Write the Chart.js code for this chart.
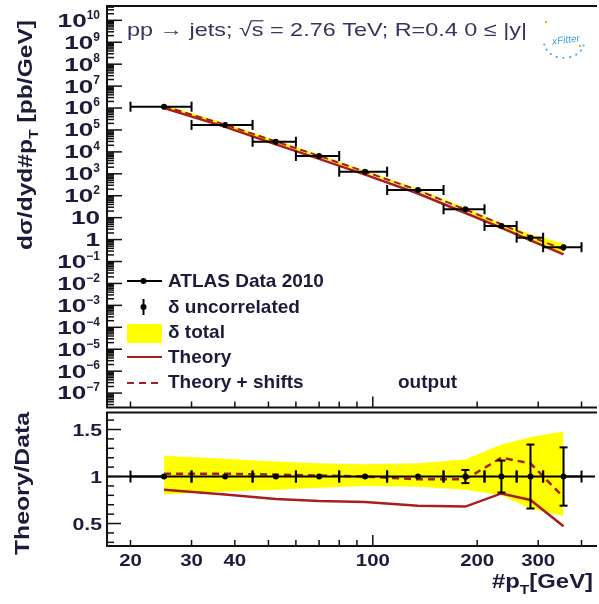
<!DOCTYPE html>
<html>
<head>
<meta charset="utf-8">
<script src="https://cdn.jsdelivr.net/npm/chart.js@4.4.1/dist/chart.umd.min.js"></script>
<style>
  html, body { margin: 0; padding: 0; background: #fff; overflow: hidden; }
  #wrap { position: relative; width: 599px; height: 604px; }
  canvas { position: absolute; left: 0; top: 0; }
</style>
</head>
<body>
<div id="wrap">
  <canvas id="xsecChart" width="599" height="604"></canvas>
  <canvas id="ratioChart" width="599" height="604"></canvas>
</div>
<script>
// ---------------- data ----------------
const binEdges = [20, 30, 45, 60, 80, 110, 160, 210, 260, 310, 400];
const ptCenters = [25, 37.5, 52.5, 70, 95, 135, 185, 235, 285, 355];
const xsecData = [1.15e6, 1.7e5, 2.9e4, 6.5e3, 1.25e3, 183, 24, 4.2, 1.22, 0.45];
const errUncorr = [0.01, 0.01, 0.01, 0.01, 0.01, 0.015, 0.07, 0.17, 0.34, 0.31];
const bandUp = [1.22, 1.19, 1.16, 1.14, 1.13, 1.14, 1.18, 1.34, 1.42, 1.48];
const bandDown = [0.81, 0.84, 0.86, 0.88, 0.90, 0.89, 0.86, 0.80, 0.66, 0.58];
const theoryRatio = [0.86, 0.81, 0.76, 0.74, 0.73, 0.69, 0.68, 0.82, 0.75, 0.47];
const shiftRatio = [1.03, 1.03, 1.02, 1.01, 1.0, 0.97, 0.97, 1.2, 1.14, 0.78];
const dataRatio = [1, 1, 1, 1, 1, 1, 1, 1, 1, 1];

// tick labels
const xsecDecades = [10, 9, 8, 7, 6, 5, 4, 3, 2, 1, 0, -1, -2, -3, -4, -5, -6, -7];
const ptTickLabels = [20, 30, 40, 100, 200, 300];
const ratioTickLabels = [0.5, 1, 1.5];

const RED = "#a81e1e";
const YELLOW = "#ffff00";
const INK = "#1c1c3a";
const FONT = '"Liberation Sans", Arial, sans-serif';

const xy = (xs, ys) => xs.map((x, i) => ({ x, y: ys[i] }));

// ---------------- drawing helpers ----------------
function seg(ctx, x1, y1, x2, y2) {
  ctx.beginPath(); ctx.moveTo(x1, y1); ctx.lineTo(x2, y2); ctx.stroke();
}

// text made of pieces, optional subscripts / overline, stretched to a given width
function richText(ctx, segs, x, y, o) {
  ctx.save();
  ctx.translate(x, y);
  if (o.rot) ctx.rotate(o.rot);
  const f = s => `${o.bold ? "bold " : ""}${s}px ${FONT}`;
  let w = 0;
  const parts = segs.map(s => {
    const size = s.sub ? o.size * 0.65 : o.size;
    ctx.font = f(size);
    const pw = ctx.measureText(s.t).width;
    w += pw;
    return { t: s.t, sub: s.sub, over: s.over, size, pw };
  });
  const sx = o.width ? o.width / w : (o.sx || 1);
  ctx.scale(sx, 1);
  let cx = o.align === "center" ? -w / 2 : o.align === "right" ? -w : 0;
  ctx.fillStyle = o.color || INK;
  ctx.strokeStyle = o.color || INK;
  ctx.lineWidth = 1.2;
  ctx.textAlign = "left";
  ctx.textBaseline = "alphabetic";
  parts.forEach(p => {
    ctx.font = f(p.size);
    ctx.fillText(p.t, cx, p.sub ? o.size * 0.3 : 0);
    if (p.over) seg(ctx, cx - 1, -o.size * 0.8, cx + p.pw, -o.size * 0.8);
    cx += p.pw;
  });
  ctx.restore();
}

function logTicks(min, max) {
  const out = [];
  for (let e = Math.floor(Math.log10(min)); e <= Math.ceil(Math.log10(max)); e++) {
    for (let m = 1; m <= 9; m++) {
      const v = m * Math.pow(10, e);
      if (v >= min && v <= max) out.push({ v, major: m === 1 });
    }
  }
  return out;
}

function drawFrame(ctx, a) {
  ctx.save();
  ctx.strokeStyle = "#111";
  ctx.lineWidth = 2;
  ctx.beginPath();
  ctx.moveTo(a.right + 2, a.top);
  ctx.lineTo(a.left, a.top);
  ctx.lineTo(a.left, a.bottom);
  ctx.lineTo(a.right + 2, a.bottom);
  ctx.stroke();
  ctx.restore();
}

function ptAxisTicks(ctx, x, a) {
  ctx.save();
  ctx.strokeStyle = "#111";
  ctx.lineWidth = 1.5;
  logTicks(x.min, x.max).forEach(t => {
    const px = x.getPixelForValue(t.v);
    seg(ctx, px, a.bottom, px, a.bottom - (t.v === 100 ? 11 : 6));
  });
  ctx.restore();
}

// ---------------- top panel ----------------
const xsecDecor = {
  id: "xsecDecor",
  afterDatasetsDraw(chart) {
    const { ctx, scales: { x, y } } = chart;
    ctx.save();
    ctx.strokeStyle = "#000";
    ctx.lineWidth = 2;
    xsecData.forEach((v, i) => {
      const py = y.getPixelForValue(v);
      const x1 = x.getPixelForValue(binEdges[i]);
      const x2 = x.getPixelForValue(binEdges[i + 1]);
      seg(ctx, x1, py, x2, py);
      seg(ctx, x1, py - 5, x1, py + 5);
      seg(ctx, x2, py - 5, x2, py + 5);
      const xc = x.getPixelForValue(ptCenters[i]);
      seg(ctx, xc, y.getPixelForValue(v * (1 + errUncorr[i])), xc, y.getPixelForValue(v * (1 - errUncorr[i])));
    });
    ctx.restore();
  },
  afterDraw(chart) {
    const { ctx, chartArea: a, scales: { x, y } } = chart;
    drawFrame(ctx, a);
    ptAxisTicks(ctx, x, a);

    // y ticks (inside frame)
    ctx.save();
    ctx.strokeStyle = "#111";
    ctx.lineWidth = 1.5;
    logTicks(y.min, y.max).forEach(t => {
      const py = y.getPixelForValue(t.v);
      seg(ctx, a.left, py, a.left + (t.major ? 15 : 7), py);
    });
    ctx.restore();

    // y tick labels with exponents
    ctx.save();
    ctx.fillStyle = INK;
    xsecDecades.forEach(L => {
      const py = y.getPixelForValue(Math.pow(10, L));
      const base = L === 0 ? "1" : "10";
      const exp = (L === 0 || L === 1) ? "" : String(L).replace("-", "\u2212");
      ctx.font = `bold 12px ${FONT}`;
      const ew = exp ? ctx.measureText(exp).width : 0;
      const right = 100;
      ctx.save();
      ctx.translate(right - ew, py + 6.4);
      ctx.scale(1.45, 1);
      ctx.font = `bold 18px ${FONT}`;
      ctx.textAlign = "right";
      ctx.fillText(base, 0, 0);
      ctx.restore();
      if (exp) {
        ctx.font = `bold 12px ${FONT}`;
        ctx.textAlign = "left";
        ctx.fillText(exp, right - ew, py - 1.7);
      }
    });
    ctx.restore();

    // y axis title
    richText(ctx, [{ t: "d\u03c3/dyd#p" }, { t: "T", sub: true }, { t: " [pb/GeV]" }],
      32, 135, { size: 21, bold: true, width: 230, rot: -Math.PI / 2, align: "center" });

    // process label
    richText(ctx, [{ t: "pp \u2192 jets; \u221a" }, { t: "s", over: true }, { t: " = 2.76 TeV; R=0.4 0 \u2264 |y|" }],
      127, 36, { size: 19, width: 400, color: "#34345e" });

    // small logo
    ctx.save();
    ctx.translate(566, 40);
    ctx.fillStyle = "#4aa8e8";
    for (let k = 0; k < 9; k++) {
      const ang = Math.PI * (0.95 - k * 0.11);
      ctx.beginPath();
      ctx.arc(Math.cos(ang) * 20 - 2, Math.sin(ang) * 16 + 2, 1.1, 0, Math.PI * 2);
      ctx.fill();
    }
    ctx.fillStyle = "#f0b020";
    ctx.beginPath(); ctx.arc(-20, -18, 1.2, 0, Math.PI * 2); ctx.fill();
    ctx.beginPath(); ctx.arc(14, 6, 1.2, 0, Math.PI * 2); ctx.fill();
    ctx.rotate(-0.12);
    ctx.font = `italic 10px ${FONT}`;
    ctx.fillStyle = "#3aa0e0";
    ctx.textAlign = "center";
    ctx.fillText("xFitter", 0, 3);
    ctx.restore();

    // legend
    ctx.save();
    const lx1 = 127, lx2 = 162, lxm = 143.5, tx = 168;
    ctx.strokeStyle = "#000";
    ctx.lineWidth = 2;
    seg(ctx, lx1, 281, lx2, 281);
    ctx.fillStyle = "#000";
    ctx.beginPath(); ctx.arc(lxm, 281, 3, 0, Math.PI * 2); ctx.fill();
    seg(ctx, lxm, 299, lxm, 315);
    ctx.beginPath(); ctx.arc(lxm, 307, 3, 0, Math.PI * 2); ctx.fill();
    ctx.fillStyle = YELLOW;
    ctx.fillRect(lx1, 324, lx2 - lx1, 19);
    ctx.strokeStyle = RED;
    seg(ctx, lx1, 357, lx2, 357);
    ctx.setLineDash([7, 5]);
    seg(ctx, lx1, 383, lx2, 383);
    ctx.restore();
    const lg = { size: 19, bold: true };
    richText(ctx, [{ t: "ATLAS Data 2010" }], tx, 287, lg);
    richText(ctx, [{ t: "\u03b4 uncorrelated" }], tx, 313, lg);
    richText(ctx, [{ t: "\u03b4 total" }], tx, 338, lg);
    richText(ctx, [{ t: "Theory" }], tx, 363, lg);
    richText(ctx, [{ t: "Theory + shifts" }], tx, 388, lg);
    richText(ctx, [{ t: "output" }], 398, 388, lg);
  }
};

new Chart(document.getElementById("xsecChart"), {
  type: "line",
  data: {
    datasets: [
      {
        label: "ATLAS Data 2010",
        data: xy(ptCenters, xsecData),
        showLine: false,
        pointRadius: 3,
        pointBackgroundColor: "#000",
        pointBorderWidth: 0,
      },
      {
        label: "Theory + shifts",
        data: xy(ptCenters, xsecData.map((v, i) => v * shiftRatio[i])),
        borderColor: RED,
        borderWidth: 2,
        borderDash: [7, 4],
        pointRadius: 0,
      },
      {
        label: "Theory",
        data: xy(ptCenters, xsecData.map((v, i) => v * theoryRatio[i])),
        borderColor: RED,
        borderWidth: 2.5,
        pointRadius: 0,
      },
      {
        label: "delta total",
        data: xy(ptCenters, xsecData.map((v, i) => v * bandUp[i])),
        borderColor: "rgba(0,0,0,0)",
        backgroundColor: YELLOW,
        pointRadius: 0,
        fill: "+1",
      },
      {
        label: "band low",
        data: xy(ptCenters, xsecData.map((v, i) => v * bandDown[i])),
        borderColor: "rgba(0,0,0,0)",
        pointRadius: 0,
        fill: false,
      },
    ],
  },
  options: {
    responsive: false,
    animation: false,
    events: [],
    layout: { padding: { left: 107, top: 6, right: 0, bottom: 604 - 407.5 } },
    plugins: { legend: { display: false }, tooltip: { enabled: false } },
    scales: {
      x: { type: "logarithmic", min: 17.11, max: 437.5, display: false },
      y: { type: "logarithmic", min: 2.2e-8, max: 4.5e10, display: false },
    },
  },
  plugins: [xsecDecor],
});

// ---------------- ratio panel ----------------
const ratioDecor = {
  id: "ratioDecor",
  beforeDatasetsDraw(chart) {
    const { ctx, chartArea: a, scales: { y } } = chart;
    // reference line at 1
    ctx.save();
    ctx.strokeStyle = "#000";
    ctx.lineWidth = 2;
    const p1 = y.getPixelForValue(1);
    seg(ctx, a.left, p1, a.right, p1);
    ctx.restore();
  },
  afterDatasetsDraw(chart) {
    const { ctx, scales: { x, y } } = chart;
    ctx.save();
    ctx.strokeStyle = "#000";
    ctx.lineWidth = 2;
    dataRatio.forEach((r, i) => {
      const py = y.getPixelForValue(r);
      const x1 = x.getPixelForValue(binEdges[i]);
      const x2 = x.getPixelForValue(binEdges[i + 1]);
      seg(ctx, x1, py, x2, py);
      seg(ctx, x1, py - 6, x1, py + 6);
      seg(ctx, x2, py - 6, x2, py + 6);
      const xc = x.getPixelForValue(ptCenters[i]);
      const yt = y.getPixelForValue(r + errUncorr[i]);
      const yb = y.getPixelForValue(r - errUncorr[i]);
      seg(ctx, xc, yt, xc, yb);
      if (errUncorr[i] > 0.03) {
        seg(ctx, xc - 4, yt, xc + 4, yt);
        seg(ctx, xc - 4, yb, xc + 4, yb);
      }
    });
    ctx.restore();
  },
  afterDraw(chart) {
    const { ctx, chartArea: a, scales: { x, y } } = chart;
    drawFrame(ctx, a);
    ptAxisTicks(ctx, x, a);

    ctx.save();
    ctx.strokeStyle = "#111";
    ctx.lineWidth = 1.5;
    for (let k = 3; k <= 16; k++) {
      const py = y.getPixelForValue(k / 10);
      seg(ctx, a.left, py, a.left + (k % 5 === 0 ? 14 : 7), py);
    }
    ctx.restore();

    ratioTickLabels.forEach(v => {
      richText(ctx, [{ t: String(v) }], 102, y.getPixelForValue(v) + 6.5,
        { size: 17, bold: true, sx: 1.25, align: "right" });
    });
    ptTickLabels.forEach(v => {
      richText(ctx, [{ t: String(v) }], x.getPixelForValue(v), 566,
        { size: 17, bold: true, sx: 1.2, align: "center" });
    });

    richText(ctx, [{ t: "Theory/Data" }], 29, 483.5,
      { size: 21, bold: true, width: 143, rot: -Math.PI / 2, align: "center" });
    richText(ctx, [{ t: "#p" }, { t: "T", sub: true }, { t: "[GeV]" }], 492, 588,
      { size: 20, bold: true, width: 101 });
  }
};

new Chart(document.getElementById("ratioChart"), {
  type: "line",
  data: {
    datasets: [
      {
        label: "data",
        data: xy(ptCenters, dataRatio),
        showLine: false,
        pointRadius: 3,
        pointBackgroundColor: "#000",
        pointBorderWidth: 0,
      },
      {
        label: "Theory + shifts",
        data: xy(ptCenters, shiftRatio),
        borderColor: RED,
        borderWidth: 2.5,
        borderDash: [7, 5],
        pointRadius: 0,
      },
      {
        label: "Theory",
        data: xy(ptCenters, theoryRatio),
        borderColor: RED,
        borderWidth: 2.5,
        pointRadius: 0,
      },
      {
        label: "delta total",
        data: xy(ptCenters, bandUp),
        borderColor: "rgba(0,0,0,0)",
        backgroundColor: YELLOW,
        pointRadius: 0,
        fill: "+1",
      },
      {
        label: "band low",
        data: xy(ptCenters, bandDown),
        borderColor: "rgba(0,0,0,0)",
        pointRadius: 0,
        fill: false,
      },
    ],
  },
  options: {
    responsive: false,
    animation: false,
    events: [],
    layout: { padding: { left: 107, top: 412.5, right: 0, bottom: 604 - 546 } },
    plugins: { legend: { display: false }, tooltip: { enabled: false } },
    scales: {
      x: { type: "logarithmic", min: 17.11, max: 437.5, display: false },
      y: { type: "linear", min: 0.261, max: 1.681, display: false },
    },
  },
  plugins: [ratioDecor],
});
</script>
</body>
</html>
